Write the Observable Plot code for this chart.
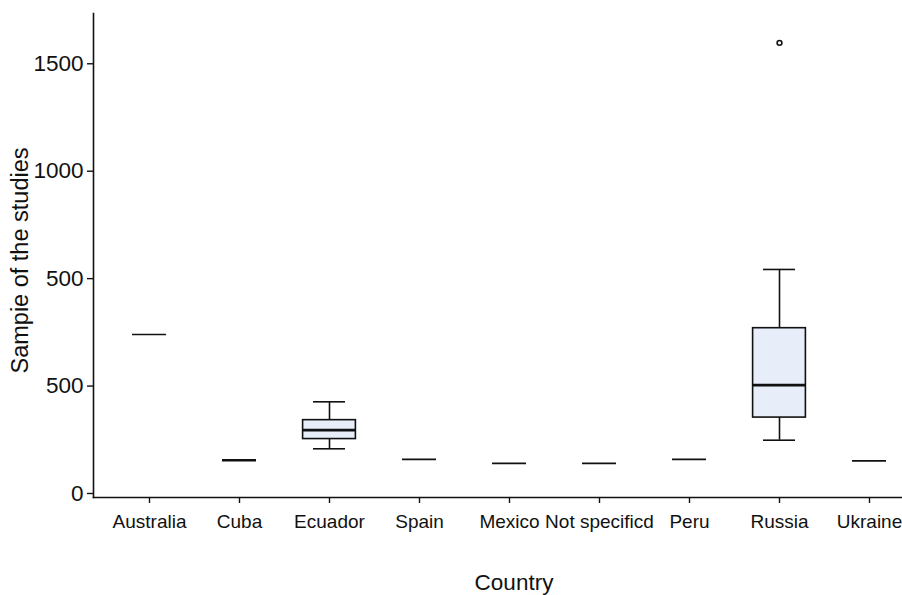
<!DOCTYPE html>
<html>
<head>
<meta charset="utf-8">
<script src="https://cdn.jsdelivr.net/npm/d3@7"></script>
<script src="https://cdn.jsdelivr.net/npm/@observablehq/plot@0.6"></script>
<style>
  html, body { margin: 0; padding: 0; background: #ffffff; }
  svg { display: block; }
</style>
</head>
<body>
<div id="chart"></div>
<script>
// Categories
const countries = ["Australia", "Cuba", "Ecuador", "Spain", "Mexico", "Not specificd", "Peru", "Russia", "Ukraine"];

// Box statistics for countries with several studies (axis units)
const boxCountries = ["Ecuador", "Russia"];
const boxLow    = [156, 186];
const boxQ1     = [190, 265];
const boxMedian = [221, 378];
const boxQ3     = [256, 577];
const boxHigh   = [320, 782];

// Countries with a single value (or identical values)
const singleCountries = ["Australia", "Cuba", "Spain", "Mexico", "Not specificd", "Peru", "Ukraine"];
const singleValues    = [555, 116, 119, 105, 105, 119, 114];
const singleWeight    = [1.7, 2.6, 1.7, 1.7, 1.7, 1.7, 1.7];

// Outliers
const outlierCountries = ["Russia"];
const outlierValues    = [1573];

// Y axis ticks and their printed labels
const yTicks      = [0, 375, 750, 1125, 1500];
const yTickLabels = ["0", "500", "500", "1000", "1500"];

const boxes = boxCountries.map((c, i) => ({
  country: c, low: boxLow[i], q1: boxQ1[i], median: boxMedian[i], q3: boxQ3[i], high: boxHigh[i]
}));
const singles = singleCountries.map((c, i) => ({country: c, value: singleValues[i], w: singleWeight[i]}));
const outliers = outlierCountries.map((c, i) => ({country: c, value: outlierValues[i]}));

const font = "'Liberation Sans', Arial, Helvetica, sans-serif";
const ink = "#111111";

const chart = Plot.plot({
  width: 902,
  height: 595,
  marginLeft: 93,
  marginRight: 0,
  marginTop: 13,
  marginBottom: 98,
  style: {fontFamily: font, background: "#ffffff", color: ink},
  x: {type: "band", domain: countries, range: [102, 916.6], padding: 0},
  y: {domain: [-14, 1675.5]},
  marks: [
    Plot.frame({anchor: "left", stroke: ink, strokeWidth: 1.6}),
    Plot.frame({anchor: "bottom", stroke: ink, strokeWidth: 1.6}),
    Plot.axisY({
      ticks: yTicks,
      tickFormat: (d, i) => yTickLabels[yTicks.indexOf(d)],
      tickSize: 6,
      tickPadding: 4,
      fontSize: 22.5,
      stroke: ink,
      fill: ink,
      strokeWidth: 1.4,
      label: null
    }),
    Plot.axisX({
      tickSize: 6,
      tickPadding: 11,
      fontSize: 19,
      stroke: ink,
      fill: ink,
      strokeWidth: 1.4,
      label: null
    }),
    // whiskers
    Plot.ruleX(boxes, {x: "country", y1: "q3", y2: "high", stroke: ink, strokeWidth: 1.6}),
    Plot.ruleX(boxes, {x: "country", y1: "low", y2: "q1", stroke: ink, strokeWidth: 1.6}),
    Plot.tickY(boxes, {x: "country", y: "high", stroke: ink, strokeWidth: 1.6, insetLeft: 29, insetRight: 29}),
    Plot.tickY(boxes, {x: "country", y: "low", stroke: ink, strokeWidth: 1.6, insetLeft: 29, insetRight: 29}),
    // boxes
    Plot.barY(boxes, {x: "country", y1: "q1", y2: "q3", fill: "#e7eefa", stroke: ink, strokeWidth: 1.6, insetLeft: 18.6, insetRight: 18.6}),
    Plot.tickY(boxes, {x: "country", y: "median", stroke: ink, strokeWidth: 2.8, insetLeft: 18.6, insetRight: 18.6}),
    // single values
    Plot.tickY(singles, {x: "country", y: "value", stroke: ink, strokeWidth: "w", insetLeft: 28, insetRight: 28}),
    // outliers
    Plot.dot(outliers, {x: "country", y: "value", r: 2.4, stroke: ink, strokeWidth: 1.6, fill: "none"}),
    // axis titles
    Plot.text(["Sampie of the studies"], {frameAnchor: "left", dx: -73, dy: 5, rotate: -90, fontSize: 23.5, fill: ink, lineAnchor: "middle", textAnchor: "middle"}),
    Plot.text(["Country"], {frameAnchor: "bottom", dx: 16, dy: 85, fontSize: 22.5, fill: ink, lineAnchor: "middle", textAnchor: "middle"})
  ]
});

document.getElementById("chart").appendChild(chart);
</script>
</body>
</html>
